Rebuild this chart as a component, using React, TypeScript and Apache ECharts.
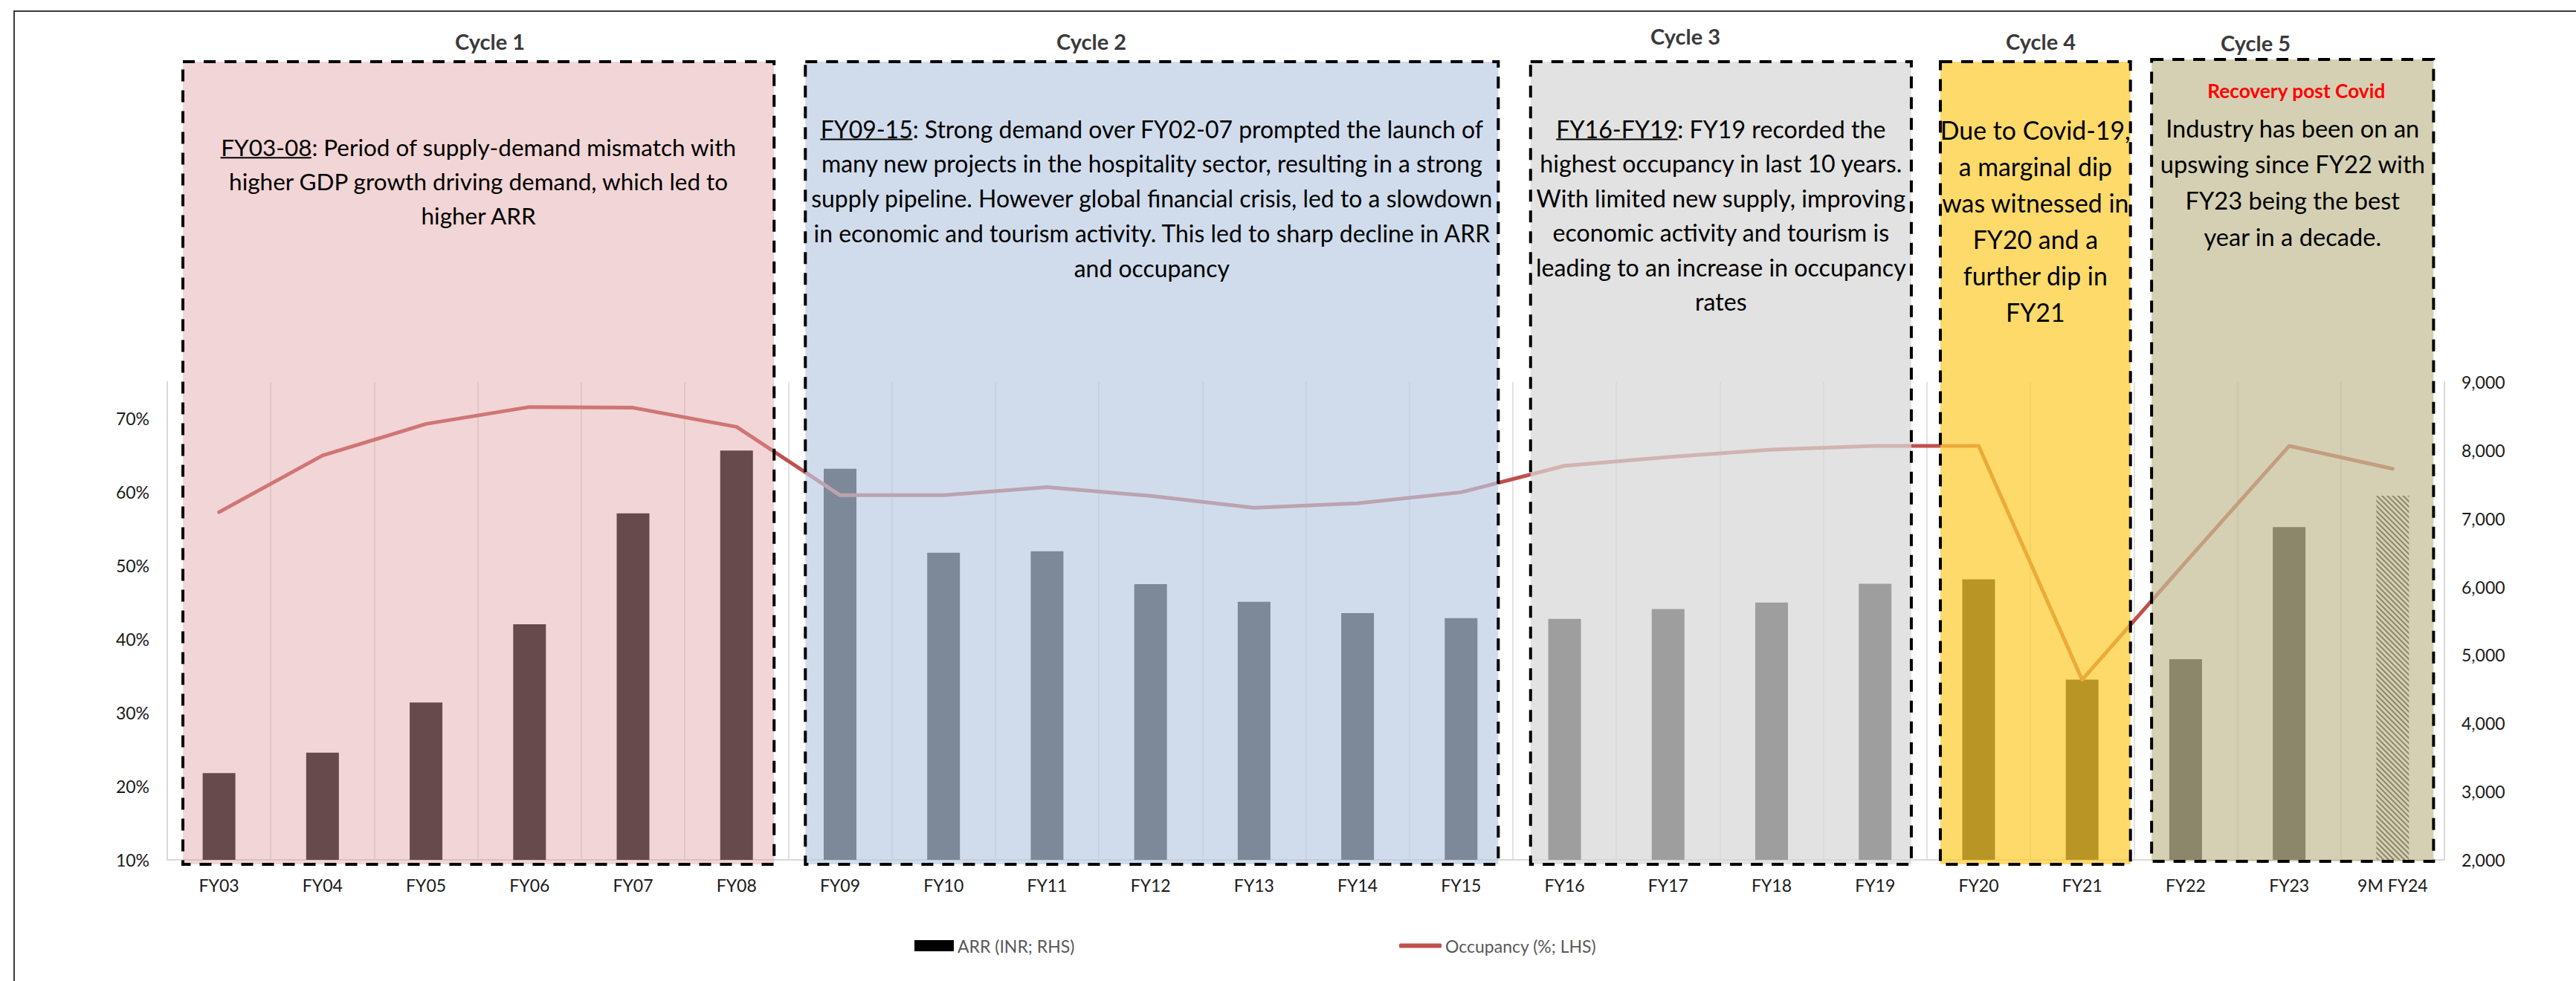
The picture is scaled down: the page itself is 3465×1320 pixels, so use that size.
import React, { useEffect, useRef } from "react";
import * as echarts from "echarts";

// ---------------- DATA ----------------
const categories = [
  "FY03", "FY04", "FY05", "FY06", "FY07", "FY08",
  "FY09", "FY10", "FY11", "FY12", "FY13", "FY14", "FY15",
  "FY16", "FY17", "FY18", "FY19",
  "FY20", "FY21",
  "FY22", "FY23", "9M FY24",
];
// ARR (INR; RHS)
const arrValues = [
  3270, 3570, 4305, 5450, 7075, 7995,
  7730, 6500, 6520, 6040, 5780, 5615, 5540,
  5530, 5675, 5770, 6045,
  6110, 4640,
  4940, 6875, 7335,
];
// Occupancy (%; LHS)
const occupancyValues = [
  57.3, 65.0, 69.3, 71.6, 71.5, 68.9,
  59.6, 59.6, 60.7, 59.5, 57.9, 58.5, 60.0,
  63.6, 64.8, 65.8, 66.3,
  66.3, 34.5,
  50.5, 66.3, 63.2,
];
const partialYearCategories = ["9M FY24"];
const leftAxisMin = 10;
const leftAxisMax = 75;
const leftAxisStep = 10;
const rightAxisMin = 2000;
const rightAxisMax = 9000;
const rightAxisStep = 1000;

const seriesNames = ["ARR (INR; RHS)", "Occupancy (%; LHS)"];

const cycleTitles = ["Cycle 1", "Cycle 2", "Cycle 3", "Cycle 4", "Cycle 5"];
const cycleStart = ["FY03", "FY09", "FY16", "FY20", "FY22"];
const cycleEnd = ["FY08", "FY15", "FY19", "FY21", "9M FY24"];
const cycleTexts = [
  [
    "FY03-08: Period of supply-demand mismatch with",
    "higher GDP growth driving demand, which led to",
    "higher ARR",
  ],
  [
    "FY09-15: Strong demand over FY02-07 prompted the launch of",
    "many new projects in the hospitality sector, resulting in a strong",
    "supply pipeline. However global financial crisis, led to a slowdown",
    "in economic and tourism activity. This led to sharp decline in ARR",
    "and occupancy",
  ],
  [
    "FY16-FY19: FY19 recorded the",
    "highest occupancy in last 10 years.",
    "With limited new supply, improving",
    "economic activity and tourism is",
    "leading to an increase in occupancy",
    "rates",
  ],
  [
    "Due to Covid-19,",
    "a marginal dip",
    "was witnessed in",
    "FY20 and a",
    "further dip in",
    "FY21",
  ],
  [
    "Industry has been on an",
    "upswing since FY22 with",
    "FY23 being the best",
    "year in a decade.",
  ],
];
const cycleUnderlined = ["FY03-08", "FY09-15", "FY16-FY19", "", ""];
const cycle5Heading = "Recovery post Covid";

// ---------------- STYLE / LAYOUT ----------------
const W = 3465;
const H = 1320;
const FONT = "Lato";
const LINE_RED = "#c0504d";
const cycleFill = [
  "rgba(226,163,165,0.455)",
  "rgba(185,203,227,0.675)",
  "rgba(216,216,216,0.733)",
  "rgba(252,204,49,0.73)",
  "rgba(196,189,148,0.715)",
];
const boxPad = [
  [48.6, 50.5],
  [46.7, 50],
  [45.8, 48.7],
  [51.5, 65],
  [45.8, 55],
];
const boxTop = [83, 83, 83, 83, 80];
const boxBottom = [1163, 1163, 1163, 1163, 1159];
const titleX = [659, 1468, 2267, 2745, 3034];
const titleY = [55, 55, 48, 55, 57];
const textTopY = [198, 173, 173, 175, 172];
const textLineH = [46, 46.8, 46.5, 49, 48.7];
const fitLine = [0, 2, 4, 0, 1];
const fitWidth = [694, 918, 498, 256, 357];

let measureCtx: CanvasRenderingContext2D | null = null;
function measure(text: string, size: number, weight = "normal", family = FONT) {
  if (!measureCtx) measureCtx = document.createElement("canvas").getContext("2d");
  measureCtx!.font = `${weight} ${size}px ${family}`;
  return measureCtx!.measureText(text).width;
}
function fitSize(text: string, target: number, weight = "normal") {
  return (100 * target) / measure(text, 100, weight);
}

function buildGraphics(chart: echarts.ECharts) {
  const px = (i: number) => chart.convertToPixel({ xAxisIndex: 0 }, i) as number;
  const els: any[] = [];
  // outer frame
  els.push({
    type: "rect",
    shape: { x: 19, y: 15, width: 3600, height: 1500 },
    style: { fill: "transparent", stroke: "#3a3a3a", lineWidth: 2 },
    z: 1,
    silent: true,
  });
  cycleTitles.forEach((title, k) => {
    const i0 = categories.indexOf(cycleStart[k]);
    const i1 = categories.indexOf(cycleEnd[k]);
    const x0 = px(i0) - boxPad[k][0];
    const x1 = px(i1) + boxPad[k][1];
    const cx = (x0 + x1) / 2;
    els.push({
      type: "rect",
      shape: { x: x0, y: boxTop[k], width: x1 - x0, height: boxBottom[k] - boxTop[k] },
      style: { fill: cycleFill[k], stroke: "#000", lineWidth: 4, lineDash: [16, 12] },
      z: 50,
      silent: true,
    });
    els.push({
      type: "text",
      x: titleX[k],
      y: titleY[k],
      style: {
        text: title,
        fontSize: 29,
        fontWeight: "bold",
        fontFamily: FONT,
        fill: "#3a3a3a",
        align: "center",
        verticalAlign: "middle",
      },
      z: 60,
    });
    const lines = cycleTexts[k];
    const size = fitSize(lines[fitLine[k]], fitWidth[k]);
    lines.forEach((ln, j) => {
      const y = textTopY[k] + j * textLineH[k];
      els.push({
        type: "text",
        x: cx,
        y,
        style: {
          text: ln,
          fontSize: size,
          fontFamily: FONT,
          fill: "#000",
          align: "center",
          verticalAlign: "middle",
        },
        z: 60,
      });
      const pre = cycleUnderlined[k];
      if (j === 0 && pre && ln.startsWith(pre)) {
        const wFull = measure(ln, size);
        const wPre = measure(pre, size);
        const sx = cx - wFull / 2;
        const uy = y + size * 0.45;
        els.push({
          type: "line",
          shape: { x1: sx, y1: uy, x2: sx + wPre, y2: uy },
          style: { stroke: "#000", lineWidth: 2 },
          z: 60,
        });
      }
    });
    if (k === 4) {
      const hs = fitSize(cycle5Heading, 240, "bold");
      els.push({
        type: "text",
        x: cx + 5,
        y: 122,
        style: {
          text: cycle5Heading,
          fontSize: hs,
          fontWeight: "bold",
          fontFamily: FONT,
          fill: "#ff0000",
          align: "center",
          verticalAlign: "middle",
        },
        z: 60,
      });
    }
  });
  return els;
}

export default function App() {
  const ref = useRef<HTMLDivElement>(null);
  useEffect(() => {
    document.body.style.margin = "0";
    const chart = echarts.init(ref.current!, null, { renderer: "svg" });
    const labelStyle = { fontSize: 23, color: "#1a1a1a", fontFamily: FONT };
    const legendText = { fontSize: 23, color: "#595959", fontFamily: FONT };
    chart.setOption({
      animation: false,
      backgroundColor: "#ffffff",
      grid: { left: 225, right: 177, top: 514, bottom: 163 },
      legend: [
        {
          data: [{ name: seriesNames[0], icon: "rect" }],
          left: 1225,
          top: 1256,
          itemWidth: 53,
          itemHeight: 15,
          selectedMode: false,
          textStyle: legendText,
        },
        {
          data: [{ name: seriesNames[1], icon: "roundRect" }],
          left: 1877,
          top: 1256,
          itemWidth: 57,
          itemHeight: 6,
          selectedMode: false,
          textStyle: legendText,
        },
      ],
      xAxis: {
        type: "category",
        data: categories,
        boundaryGap: true,
        axisLine: { show: true, lineStyle: { color: "#d9d9d9", width: 2 } },
        axisTick: { show: false },
        axisLabel: { ...labelStyle, margin: 22, interval: 0 },
        splitLine: { show: true, lineStyle: { color: "#d9d9d9", width: 1.5 } },
      },
      yAxis: [
        {
          type: "value",
          position: "left",
          min: leftAxisMin,
          max: leftAxisMax,
          interval: leftAxisStep,
          axisLine: { show: true, lineStyle: { color: "#d9d9d9", width: 2 } },
          axisTick: { show: false },
          splitLine: { show: false },
          axisLabel: { ...labelStyle, margin: 24, formatter: "{value}%", showMaxLabel: false },
        },
        {
          type: "value",
          position: "right",
          min: rightAxisMin,
          max: rightAxisMax,
          interval: rightAxisStep,
          axisLine: { show: true, lineStyle: { color: "#d9d9d9", width: 2 } },
          axisTick: { show: false },
          splitLine: { show: false },
          axisLabel: {
            ...labelStyle,
            margin: 23,
            formatter: (v: number) => v.toLocaleString("en-US"),
          },
        },
      ],
      series: [
        {
          name: seriesNames[0],
          type: "bar",
          yAxisIndex: 1,
          barWidth: 44,
          itemStyle: { color: "#000000" },
          data: arrValues.map((v, i) =>
            partialYearCategories.includes(categories[i])
              ? {
                  value: v,
                  itemStyle: {
                    color: "#ffffff",
                    decal: {
                      symbol: "rect",
                      symbolSize: 1,
                      color: "#000000",
                      backgroundColor: "#ffffff",
                      dashArrayX: [10, 0],
                      dashArrayY: [1.2, 2.2],
                      rotation: Math.PI / 4,
                    },
                  },
                }
              : v
          ),
          z: 2,
        },
        {
          name: seriesNames[1],
          type: "line",
          yAxisIndex: 0,
          data: occupancyValues,
          symbol: "none",
          lineStyle: { color: LINE_RED, width: 5, cap: "round", join: "round" },
          itemStyle: { color: LINE_RED },
          z: 3,
        },
      ],
    });
    chart.setOption({ graphic: buildGraphics(chart) });
    return () => chart.dispose();
  }, []);
  return (
    <div
      ref={ref}
      style={{ position: "absolute", left: 0, top: 0, width: W, height: H }}
    />
  );
}
